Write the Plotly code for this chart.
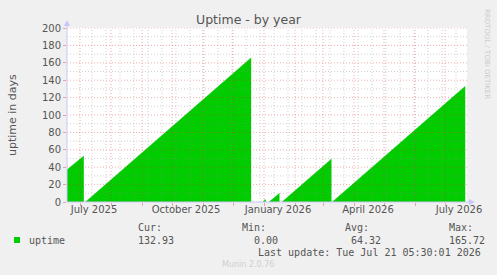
import datetime as dt
import plotly.graph_objects as go

# ---- data (uptime in days; None = unknown/gap) ----
times = [
    "2025-06-18 00:00", "2025-07-04 20:00", None,
    "2025-07-06 12:00", "2025-12-19 05:00", None,
    "2025-12-31 00:00", "2026-01-02 00:00", "2026-01-03 00:00", None,
    "2026-01-06 00:00", "2026-01-16 12:00", None,
    "2026-01-19 00:00", "2026-03-09 12:00", None,
    "2026-03-10 07:10", "2026-07-21 05:30",
]
uptime = [
    37.0, 53.0, None,
    0.0, 165.72, None,
    0.0, 3.0, 0.0, None,
    0.0, 10.0, None,
    0.0, 49.5, None,
    0.0, 132.93,
]
x_range = ["2025-06-18", "2026-07-23"]
x_tick_vals = ["2025-07-15", "2025-10-15", "2026-01-15", "2026-04-15", "2026-07-15"]
x_tick_text = ["July 2025", "October 2025", "January 2026", "April 2026", "July 2026"]
y_ticks = [0, 20, 40, 60, 80, 100, 120, 140, 160, 180, 200]
stats_head = ["Cur:", "Min:", "Avg:", "Max:"]
stats_vals = ["132.93", "0.00", "64.32", "165.72"]
series_name = "uptime"
last_update = "Last update: Tue Jul 21 05:30:01 2026"

GREEN = "#00CC00"
TXT = "#555555"
MGRID = "rgba(222,48,48,0.40)"
GRID = "rgba(140,140,140,0.40)"
AXIS = "#c8c8f8"

W, H = 497, 275
L, R, T, B = 67, 30, 28, 73
PW, PH = W - L - R, H - T - B


def px(xp):
    return (xp - L) / PW


def py(yp):
    return (T + PH - yp) / PH


fig = go.Figure()
# split series at unknown values so each known run is filled on its own
segments, cur = [], ([], [])
for t, v in zip(times, uptime):
    if v is None:
        if cur[0]:
            segments.append(cur)
        cur = ([], [])
    else:
        cur[0].append(t)
        cur[1].append(v)
if cur[0]:
    segments.append(cur)
for sx, sy in segments:
    fig.add_trace(go.Scatter(
        x=sx, y=sy, mode="lines", fill="tozeroy",
        fillcolor=GREEN, line=dict(color=GREEN, width=0.5),
        hoverinfo="skip", showlegend=False,
    ))

shapes = []
# vertical grid: biweekly minor (gray), monthly major (red)
d = dt.date(2025, 7, 13)
end = dt.date(2026, 7, 23)
while d < end:
    shapes.append(dict(type="line", xref="x", yref="paper", x0=d.isoformat(), x1=d.isoformat(),
                       y0=0, y1=1, line=dict(color=GRID, width=1, dash="1px,2px"), layer="above"))
    d += dt.timedelta(days=14)
y_, m_ = 2025, 7
while dt.date(y_, m_, 1) < end:
    s = dt.date(y_, m_, 1).isoformat()
    shapes.append(dict(type="line", xref="x", yref="paper", x0=s, x1=s, y0=0, y1=1,
                       line=dict(color=MGRID, width=1, dash="1px,2px"), layer="above"))
    m_ += 1
    if m_ > 12:
        m_, y_ = 1, y_ + 1
# horizontal grid
for v in range(10, 200, 20):
    shapes.append(dict(type="line", xref="paper", yref="y", x0=0, x1=1, y0=v, y1=v,
                       line=dict(color=GRID, width=1, dash="1px,2px"), layer="above"))
for v in y_ticks[1:]:
    shapes.append(dict(type="line", xref="paper", yref="y", x0=0, x1=1, y0=v, y1=v,
                       line=dict(color=MGRID, width=1, dash="1px,2px"), layer="above"))
# axes with arrows
shapes.append(dict(type="line", xref="paper", yref="paper", x0=0, x1=0, y0=0, y1=py(24),
                   line=dict(color=AXIS, width=1), layer="above"))
shapes.append(dict(type="line", xref="paper", yref="paper", x0=0, x1=px(471), y0=0, y1=0,
                   line=dict(color=AXIS, width=1), layer="above"))
shapes.append(dict(type="path", xref="paper", yref="paper",
                   path=f"M {px(64)} {py(26)} L {px(70)} {py(26)} L {px(67)} {py(20)} Z",
                   fillcolor=AXIS, line=dict(width=0), layer="above"))
shapes.append(dict(type="path", xref="paper", yref="paper",
                   path=f"M {px(469)} {py(199)} L {px(469)} {py(205)} L {px(475)} {py(202)} Z",
                   fillcolor=AXIS, line=dict(width=0), layer="above"))
# legend swatch
shapes.append(dict(type="rect", xref="paper", yref="paper", x0=px(14), x1=px(20),
                   y0=py(243), y1=py(237), fillcolor=GREEN, line=dict(width=0)))

ann = []


def text(t, xp, yp, size=10, fam="DejaVu Sans Mono", color=TXT, xa="left", angle=0):
    ann.append(dict(text=t, xref="paper", yref="paper", x=px(xp), y=py(yp), xanchor=xa,
                    yanchor="middle", showarrow=False, textangle=angle,
                    font=dict(family=fam, size=size, color=color)))


text("Uptime - by year", 249, 19, size=12.5, fam="DejaVu Sans", xa="center")
text("uptime in days", 12, 115, size=11, fam="DejaVu Sans", xa="center", angle=-90)
text("RRDTOOL / TOBI OETIKER", 487, 54, size=7, fam="DejaVu Sans", color="#cccccc",
     xa="center", angle=90)
for hx, h in zip([136, 240, 343, 447], stats_head):
    text(h, hx, 227)
text(series_name, 27, 240)
for vx, v in zip([136, 252, 349, 447], stats_vals):
    text(v, vx, 240)
text(last_update, 483, 252, xa="right")
text("Munin 2.0.76", 248, 264, size=8, fam="DejaVu Sans", color="#cfcfcf", xa="center")

fig.update_layout(
    width=W, height=H, margin=dict(l=L, r=R, t=T, b=B),
    paper_bgcolor="#f0f0f0", plot_bgcolor="#ffffff",
    showlegend=False, shapes=shapes, annotations=ann,
    xaxis=dict(type="date", range=x_range, tickvals=x_tick_vals, ticktext=x_tick_text,
               showgrid=False, zeroline=False, showline=False, ticks="",
               tickfont=dict(family="DejaVu Sans", size=10, color=TXT),
               minor=dict(ticks="outside", ticklen=3, tickcolor=MGRID, dtick="M1",
                          tick0="2025-07-01", showgrid=False)),
    yaxis=dict(range=[0, 200], tickvals=y_ticks, showgrid=False, zeroline=False,
               showline=False, ticks="outside", ticklen=3, tickcolor=MGRID,
               tickfont=dict(family="DejaVu Sans", size=10, color=TXT)),
)
fig.write_html("out.html")
